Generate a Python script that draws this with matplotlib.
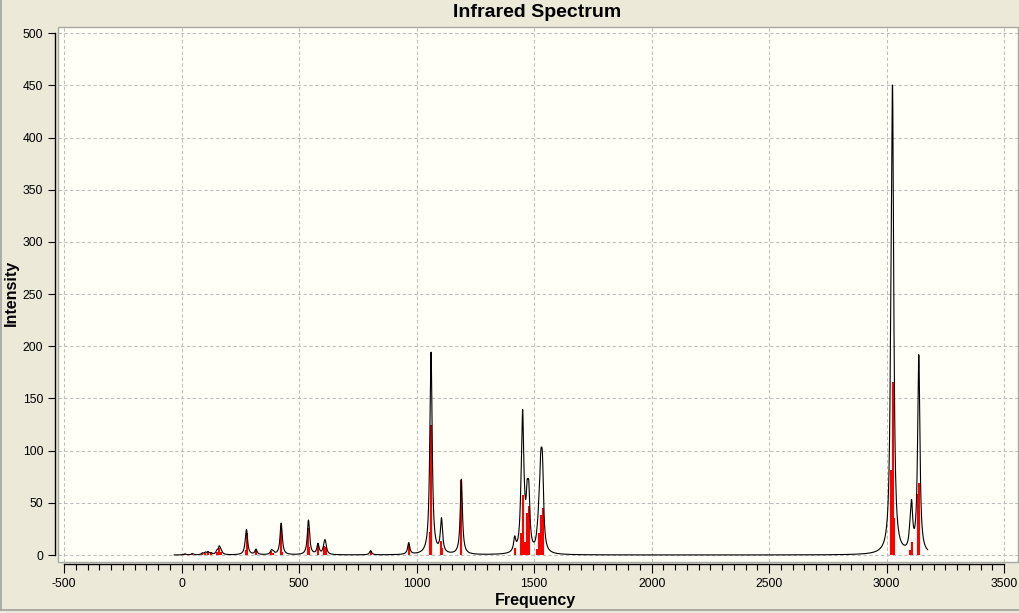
import numpy as np
import matplotlib
matplotlib.use('Agg')
import matplotlib.pyplot as plt
from matplotlib.ticker import FixedLocator
from matplotlib.patches import Rectangle
from matplotlib.lines import Line2D

plt.rcParams['font.family'] = ['Liberation Sans', 'DejaVu Sans']
plt.rcParams['axes.unicode_minus'] = False
plt.rcParams['lines.scale_dashes'] = False

# ---------------- data ----------------
# computed vibrational modes: frequency (cm-1), IR intensity, number of
# (near-)degenerate modes sharing that frequency
stick_freq = [14, 45, 88, 100, 112, 125, 150, 160, 168, 272, 276, 316, 382, 390,
              423, 426, 539, 541, 580, 607, 612, 804, 966, 1057, 1061, 1062,
              1105, 1107, 1190, 1417, 1444, 1448, 1451, 1459, 1470, 1477,
              1513, 1520, 1527, 1529, 1533, 1536,
              3018, 3022, 3025, 3029, 3099, 3102, 3106, 3135, 3137]
stick_int = [1.0, 1.2, 1.5, 2.0, 2.5, 1.5, 3.0, 7.0, 3.0, 5.0, 21.0, 5.0, 4.0, 2.0,
             28.0, 3.0, 26.0, 8.0, 10.0, 9.0, 8.0, 4.0, 11.0, 22.0, 125.0, 56.0,
             13.0, 7.0, 72.0, 6.4, 21.0, 8.0, 57.5, 12.0, 40.0, 47.0,
             6.0, 21.0, 38.0, 24.0, 30.0, 45.0,
             81.5, 81.5, 166.0, 35.0, 4.8, 4.0, 12.8, 58.0, 68.7]
stick_deg = [1, 1, 1, 1, 1, 1, 1, 1, 1, 1, 1, 1, 1, 1,
             1, 1, 1, 1, 1, 1, 1, 1, 1, 1, 1, 1,
             2, 1, 1, 2, 1, 1, 2, 1, 1, 1,
             1, 1, 1, 1, 1, 1,
             1, 1, 2, 1, 2, 1, 3, 1, 2]

hwhm = 5.5                       # Lorentzian half-width at half height
curve_start, curve_end = -32, 3174

x_major = list(range(-500, 3501, 500))
x_minor = list(range(-500, 3501, 50))
y_major = list(range(0, 501, 50))

# ---------------- figure ----------------
W, H = 1019, 613
fig = plt.figure(figsize=(W / 100, H / 100), dpi=100, facecolor='#ECE9D8')
L, R, B, T = 58, 1018, 562, 27.3
ax = fig.add_axes([L / W, 1 - B / H, (R - L) / W, (B - T) / H])
ax.set_facecolor('#FFFFF7')
ax.set_xlim(-526.4, 3558.7)
ax.set_ylim(-6.7, 505.75)

# broadened spectrum
f = np.arange(curve_start, curve_end + 0.01, 1.0)
sf = np.array(stick_freq, float)
si = np.array(stick_int, float)
sd = np.array(stick_deg, float)
spec = (sd[:, None] * si[:, None] * hwhm ** 2 /
        ((f[None, :] - sf[:, None]) ** 2 + hwhm ** 2)).sum(axis=0)

ax.vlines(stick_freq, 0, stick_int, colors='#FF0000', linewidth=1.5, zorder=2)
ax.plot(f, spec, color='black', linewidth=0.8, zorder=3)

# axes styling
for s in ['top', 'right']:
    ax.spines[s].set_visible(False)
ax.spines['left'].set_position(('outward', 2.2))
ax.spines['left'].set_bounds(0, 500)
ax.spines['bottom'].set_position(('outward', 1.7))
ax.spines['bottom'].set_bounds(-500, 3500)
for s in ['left', 'bottom']:
    ax.spines[s].set_linewidth(1.0)
    ax.spines[s].set_color('black')

ax.xaxis.set_major_locator(FixedLocator(x_major))
ax.xaxis.set_minor_locator(FixedLocator(x_minor))
ax.yaxis.set_major_locator(FixedLocator(y_major))
ax.tick_params(axis='x', which='major', length=6.5, width=0.8, direction='out',
               pad=3.4, labelsize=8.7)
ax.tick_params(axis='x', which='minor', length=4, width=0.8, direction='out')
ax.tick_params(axis='y', which='major', length=5, width=0.8, direction='out',
               pad=3.4, labelsize=8.7)

ax.grid(True, which='major', color='#BDBDBD', linestyle=(0, (2.4, 1.8)),
        linewidth=0.75, zorder=0)
ax.set_axisbelow(True)

ax.add_patch(Rectangle((0, 0), 1, 1, transform=ax.transAxes, fill=False,
                       edgecolor='#A8A8A0', linewidth=1.0, clip_on=False, zorder=5))

# texts
fig.text(537 / W, 1 - 12.5 / H, 'Infrared Spectrum', ha='center', va='center',
         fontsize=14, fontweight='bold')
fig.text(535 / W, 1 - 601 / H, 'Frequency', ha='center', va='center',
         fontsize=11.5, fontweight='bold')
fig.text(11 / W, 1 - 293 / H, 'Intensity', rotation=90, ha='center', va='center',
         fontsize=11.5, fontweight='bold')

# outer panel border
fig.add_artist(Line2D([1 / W, 1 / W], [1 - 610 / H, 1], transform=fig.transFigure,
                      color='#A0A0A0', linewidth=1.2))
fig.add_artist(Line2D([1 / W, 1], [1 - 610 / H, 1 - 610 / H], transform=fig.transFigure,
                      color='#A0A0A0', linewidth=1.2))

fig.savefig('out.png', dpi=100, facecolor=fig.get_facecolor())
